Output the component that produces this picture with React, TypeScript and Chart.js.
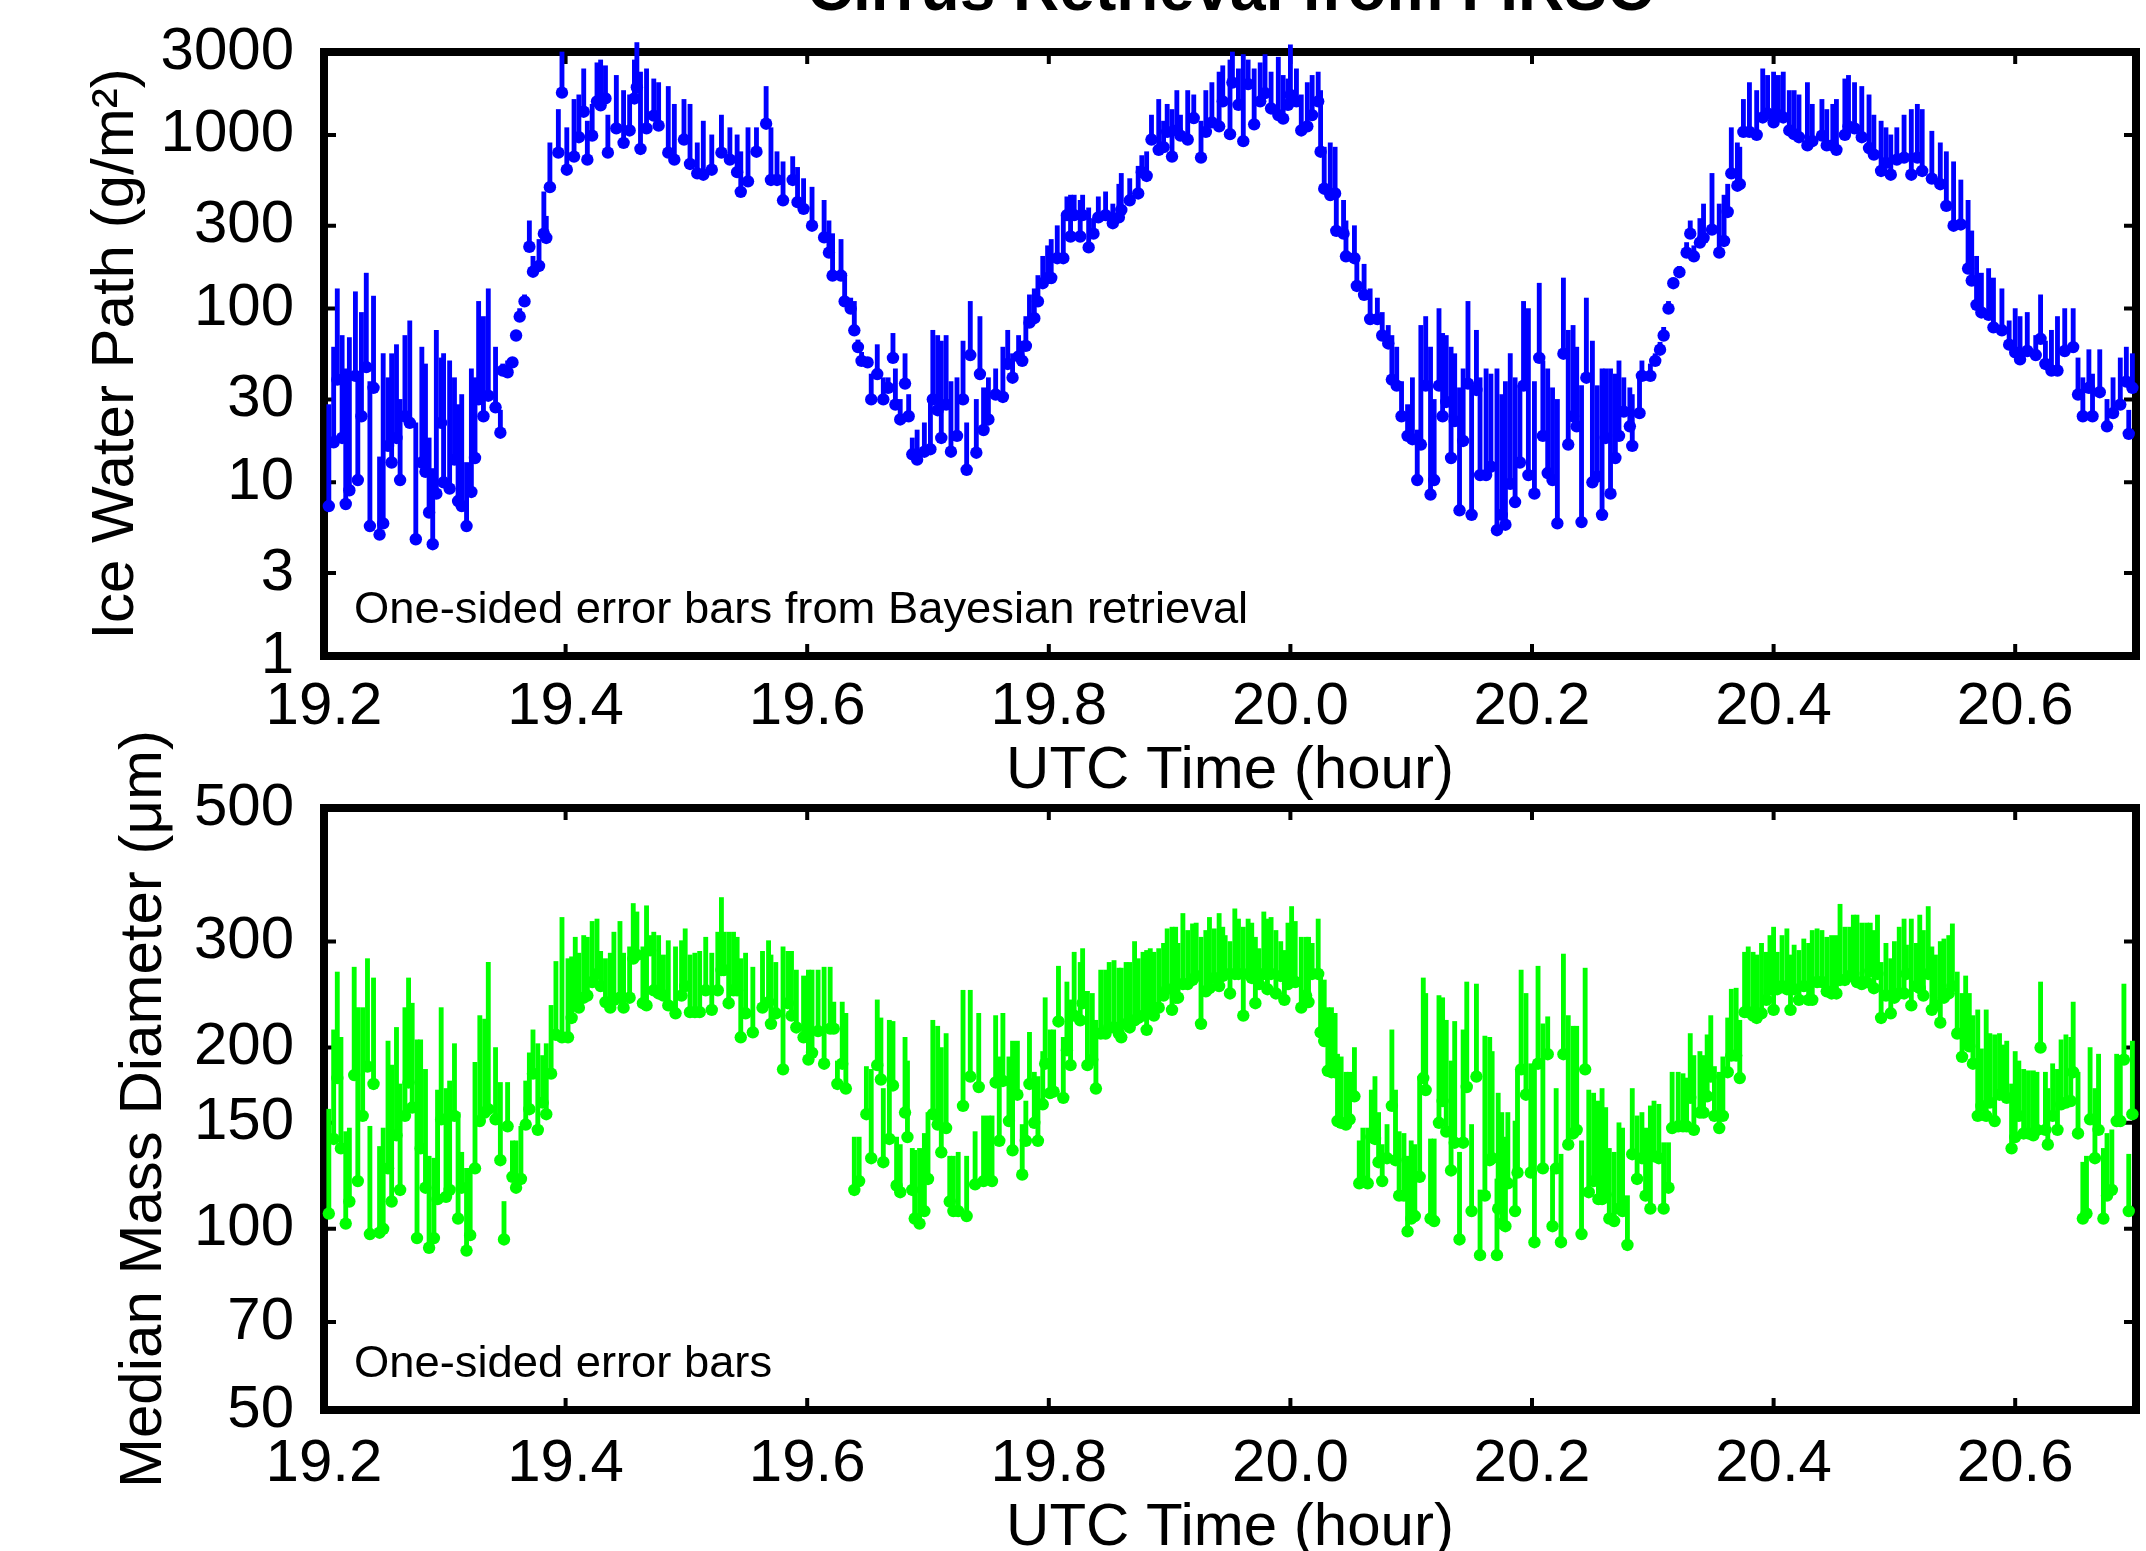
import { useEffect, useRef } from "react";
import { Chart, registerables } from "chart.js";

Chart.register(...registerables);

const FONT_FAMILY = '"Liberation Sans", Arial, Helvetica, sans-serif';

const TITLE = "Cirrus Retrieval from FIRSC";
const X_LABEL = "UTC Time (hour)";
const X_MIN = 19.2;
const X_MAX = 20.7;
const X_TICKS = [19.2, 19.4, 19.6, 19.8, 20.0, 20.2, 20.4, 20.6];

// ---- Ice water path (g/m^2): retrieved value and upper end of its one-sided error bar ----
const IWP_TICKS = [1, 3, 10, 30, 100, 300, 1000, 3000];

const IWP_TIME = [
  19.204, 19.208, 19.211, 19.215, 19.218, 19.221, 19.226, 19.228, 19.231, 19.235,
  19.238, 19.241, 19.246, 19.249, 19.253, 19.256, 19.260, 19.263, 19.267, 19.271,
  19.276, 19.281, 19.284, 19.287, 19.290, 19.293, 19.297, 19.299, 19.304, 19.308,
  19.311, 19.314, 19.318, 19.322, 19.325, 19.328, 19.332, 19.336, 19.342, 19.346,
  19.348, 19.352, 19.356, 19.359, 19.362, 19.366, 19.370, 19.373, 19.378, 19.382,
  19.384, 19.387, 19.394, 19.397, 19.401, 19.407, 19.411, 19.415, 19.418, 19.422,
  19.426, 19.429, 19.433, 19.435, 19.442, 19.448, 19.453, 19.457, 19.459, 19.462,
  19.467, 19.473, 19.477, 19.485, 19.490, 19.498, 19.503, 19.509, 19.514, 19.521,
  19.529, 19.536, 19.542, 19.545, 19.551, 19.558, 19.566, 19.570, 19.575, 19.580,
  19.588, 19.592, 19.597, 19.604, 19.614, 19.618, 19.621, 19.628, 19.631, 19.636,
  19.639, 19.642, 19.645, 19.650, 19.653, 19.658, 19.663, 19.667, 19.671, 19.673,
  19.677, 19.681, 19.684, 19.687, 19.691, 19.697, 19.702, 19.704, 19.708, 19.711,
  19.715, 19.719, 19.724, 19.729, 19.732, 19.735, 19.740, 19.743, 19.746, 19.750,
  19.756, 19.762, 19.766, 19.770, 19.775, 19.778, 19.781, 19.784, 19.788, 19.791,
  19.795, 19.799, 19.802, 19.807, 19.812, 19.815, 19.818, 19.821, 19.826, 19.828,
  19.833, 19.837, 19.841, 19.847, 19.853, 19.858, 19.860, 19.867, 19.874, 19.877,
  19.881, 19.885, 19.891, 19.895, 19.898, 19.902, 19.906, 19.909, 19.915, 19.920,
  19.926, 19.930, 19.935, 19.941, 19.944, 19.950, 19.952, 19.957, 19.961, 19.965,
  19.970, 19.975, 19.979, 19.984, 19.990, 19.994, 19.998, 20.000, 20.005, 20.009,
  20.014, 20.018, 20.023, 20.025, 20.028, 20.033, 20.037, 20.038, 20.044, 20.046,
  20.053, 20.055, 20.061, 20.066, 20.072, 20.076, 20.081, 20.084, 20.088, 20.092,
  20.097, 20.101, 20.105, 20.108, 20.112, 20.116, 20.119, 20.123, 20.126, 20.129,
  20.133, 20.136, 20.140, 20.143, 20.147, 20.150, 20.154, 20.157, 20.162, 20.166,
  20.171, 20.175, 20.178, 20.182, 20.186, 20.190, 20.193, 20.197, 20.202, 20.206,
  20.209, 20.213, 20.217, 20.221, 20.226, 20.230, 20.234, 20.237, 20.241, 20.245,
  20.250, 20.254, 20.258, 20.261, 20.265, 20.269, 20.272, 20.276, 20.281, 20.283,
  20.289, 20.291, 20.298, 20.302, 20.306, 20.309, 20.313, 20.317, 20.322, 20.328,
  20.331, 20.334, 20.339, 20.342, 20.349, 20.355, 20.359, 20.362, 20.365, 20.370,
  20.372, 20.375, 20.380, 20.386, 20.391, 20.395, 20.400, 20.404, 20.408, 20.413,
  20.417, 20.421, 20.428, 20.432, 20.440, 20.444, 20.449, 20.452, 20.459, 20.462,
  20.467, 20.473, 20.479, 20.483, 20.489, 20.493, 20.497, 20.502, 20.508, 20.514,
  20.519, 20.523, 20.531, 20.538, 20.543, 20.549, 20.555, 20.561, 20.564, 20.568,
  20.572, 20.578, 20.582, 20.589, 20.595, 20.600, 20.604, 20.610, 20.617, 20.621,
  20.625, 20.630, 20.635, 20.641, 20.648, 20.652, 20.656, 20.661, 20.664, 20.670,
  20.676, 20.681, 20.687, 20.692, 20.694, 20.697,
];

const IWP = [
  7.3, 17, 39, 18, 7.5, 9, 41, 10.3, 24, 46,
  5.6, 35, 5.0, 5.8, 16.2, 13, 18, 10.3, 24, 22,
  4.7, 13, 11.5, 6.7, 4.4, 8.6, 22, 10, 9.2, 13.5,
  7.8, 7.3, 5.6, 8.8, 13.8, 30, 24, 31.5, 27, 19.3,
  44, 43, 49, 70, 90, 110, 227, 163, 176, 270,
  255, 500, 790, 1750, 630, 750, 970, 1360, 720, 990,
  1560, 1480, 1620, 790, 1090, 900, 1060, 1620, 1880, 830,
  1090, 1290, 1130, 790, 720, 940, 680, 600, 590, 630,
  790, 720, 610, 470, 540, 800, 1160, 550, 550, 420,
  550, 410, 375, 300, 257, 210, 155, 155, 110, 100,
  75, 60, 50, 49, 30, 42, 30, 35, 52, 28,
  23, 37, 24, 14.5, 13.5, 15, 15.5, 30, 26, 18,
  28, 15, 18.5, 30, 11.8, 54, 14.8, 42, 20, 23,
  32, 31, 48, 40, 53, 50, 61, 83, 88, 110,
  140, 150, 150, 195, 195, 345, 260, 345, 260, 345,
  225, 270, 335, 345, 310, 335, 370, 420, 460, 610,
  580, 940, 820, 850, 1040, 750, 1060, 990, 940, 1250,
  740, 1040, 1180, 1120, 1560, 1010, 2000, 1490, 920, 1960,
  1150, 1560, 1740, 1420, 1300, 1240, 1490, 1700, 1560, 1060,
  1120, 1300, 1560, 800, 490, 450, 460, 280, 270, 200,
  195, 135, 120, 87, 87, 70, 63, 39, 36, 24,
  18.5, 17.7, 10.3, 16.5, 36, 8.5, 10.3, 36, 24, 29,
  13.8, 22.5, 6.9, 17.3, 37, 6.5, 34, 11, 11, 12.3,
  5.3, 6.5, 5.7, 9.8, 7.7, 13, 36, 11, 8.6, 52,
  18.5, 11.3, 10.3, 5.8, 55, 16.5, 24, 21, 5.9, 40,
  10, 10.8, 6.5, 18, 8.6, 13.8, 18.5, 25.5, 21, 16.2,
  25, 41, 41, 50, 58, 70, 100, 140, 162, 210,
  270, 200, 240, 255, 285, 210, 245, 360, 600, 510,
  520, 1040, 1040, 1000, 1260, 1330, 1180, 1300, 1260, 1060,
  1010, 970, 870, 920, 990, 870, 870, 820, 1000, 1120,
  1090, 970, 840, 770, 620, 690, 590, 720, 740, 590,
  740, 620, 560, 520, 390, 300, 305, 170, 145, 105,
  95, 92, 78, 75, 62, 56, 51, 57, 54, 67,
  48, 44, 44, 57, 60, 32, 24, 35, 24, 33,
  21, 25, 28, 38, 19, 35,
];

const IWP_UPPER = [
  28, 60, 130, 70, 45, 68, 125, 40, 95, 160,
  38, 118, 14, 55, 40, 55, 62, 30, 70, 85,
  22, 60, 48, 18, 12, 75, 52, 55, 50, 40,
  28, 32, 13, 45, 40, 110, 90, 130, 60, 26,
  48, 50, 52, 75, 100, 120, 320, 200, 250, 470,
  340, 900, 1400, 3000, 1100, 1600, 1700, 2400, 1200, 1500,
  2600, 2700, 2500, 1300, 2200, 1800, 1700, 2700, 3400, 2300,
  2400, 2100, 2000, 1900, 1500, 1600, 1500, 900, 1200, 1000,
  1300, 1100, 1000, 800, 1100, 1100, 1900, 1100, 800, 700,
  750, 650, 560, 500, 420, 320, 270, 250, 160, 115,
  110, 66, 56, 52, 42, 62, 40, 40, 72, 45,
  30, 55, 32, 18, 20, 22, 30, 75, 70, 65,
  70, 38, 40, 65, 22, 110, 30, 90, 35, 40,
  45, 60, 75, 55, 70, 65, 90, 120, 130, 155,
  200, 230, 250, 300, 340, 440, 450, 450, 420, 450,
  380, 330, 440, 470, 400, 520, 600, 560, 660, 760,
  800, 1300, 1600, 1200, 1500, 1400, 1800, 1300, 1800, 1700,
  1200, 1800, 2000, 2300, 2500, 2700, 3000, 2400, 2900, 2700,
  2400, 2600, 2900, 2300, 2800, 2200, 2100, 3300, 2400, 1700,
  2000, 2200, 2300, 1800, 850, 900, 850, 450, 420, 320,
  300, 200, 180, 130, 115, 95, 80, 70, 60, 38,
  28, 40, 20, 80, 90, 60, 30, 100, 72, 70,
  60, 55, 35, 45, 110, 35, 75, 40, 45, 42,
  45, 32, 38, 55, 40, 36, 110, 100, 38, 140,
  50, 45, 35, 30, 150, 75, 80, 60, 36, 115,
  65, 36, 45, 45, 45, 42, 50, 40, 35, 32,
  42, 50, 48, 55, 64, 78, 110, 150, 175, 240,
  320, 230, 330, 400, 600, 400, 450, 520, 1100, 900,
  850, 1600, 2000, 1800, 2400, 2200, 2300, 2200, 2300, 1800,
  1800, 1700, 2000, 1500, 1600, 1400, 1500, 1600, 2100, 2200,
  2000, 1900, 1700, 1300, 1200, 1100, 1000, 1100, 1300, 1400,
  1500, 1400, 1050, 900, 800, 700, 550, 420, 280, 200,
  160, 170, 150, 130, 85, 100, 90, 95, 70, 120,
  65, 75, 90, 100, 100, 52, 40, 58, 42, 58,
  30, 40, 52, 60, 26, 55,
];

// ---- Median mass diameter (um): retrieved value and upper end of its one-sided error bar ----
const DM_TICKS = [50, 70, 100, 150, 200, 300, 500];

const DM_TIME = [
  19.204, 19.208, 19.211, 19.214, 19.218, 19.221, 19.225, 19.228, 19.232, 19.236,
  19.238, 19.241, 19.246, 19.249, 19.253, 19.256, 19.260, 19.263, 19.267, 19.270,
  19.273, 19.277, 19.280, 19.284, 19.287, 19.291, 19.294, 19.297, 19.301, 19.304,
  19.308, 19.311, 19.314, 19.318, 19.321, 19.325, 19.329, 19.333, 19.336, 19.342,
  19.346, 19.349, 19.352, 19.356, 19.359, 19.363, 19.367, 19.370, 19.373, 19.377,
  19.381, 19.384, 19.388, 19.392, 19.397, 19.402, 19.405, 19.408, 19.411, 19.415,
  19.418, 19.422, 19.426, 19.429, 19.433, 19.437, 19.440, 19.445, 19.448, 19.453,
  19.456, 19.459, 19.464, 19.467, 19.470, 19.473, 19.477, 19.481, 19.485, 19.491,
  19.496, 19.499, 19.503, 19.507, 19.511, 19.516, 19.521, 19.526, 19.529, 19.531,
  19.535, 19.539, 19.542, 19.545, 19.549, 19.555, 19.563, 19.568, 19.570, 19.574,
  19.580, 19.584, 19.587, 19.591, 19.597, 19.601, 19.604, 19.609, 19.614, 19.619,
  19.622, 19.625, 19.629, 19.632, 19.639, 19.643, 19.649, 19.653, 19.658, 19.661,
  19.663, 19.668, 19.671, 19.674, 19.677, 19.681, 19.683, 19.687, 19.689, 19.693,
  19.697, 19.700, 19.704, 19.708, 19.711, 19.715, 19.718, 19.721, 19.725, 19.729,
  19.732, 19.735, 19.739, 19.742, 19.746, 19.750, 19.753, 19.756, 19.759, 19.762,
  19.767, 19.770, 19.774, 19.778, 19.781, 19.784, 19.788, 19.791, 19.795, 19.797,
  19.801, 19.804, 19.808, 19.812, 19.815, 19.818, 19.821, 19.826, 19.828, 19.832,
  19.836, 19.839, 19.843, 19.847, 19.850, 19.854, 19.858, 19.860, 19.864, 19.867,
  19.871, 19.874, 19.878, 19.881, 19.884, 19.887, 19.891, 19.895, 19.898, 19.902,
  19.905, 19.907, 19.911, 19.915, 19.919, 19.922, 19.926, 19.930, 19.933, 19.937,
  19.941, 19.944, 19.946, 19.950, 19.954, 19.957, 19.961, 19.965, 19.968, 19.971,
  19.974, 19.978, 19.981, 19.984, 19.988, 19.992, 19.995, 19.998, 20.001, 20.004,
  20.009, 20.013, 20.015, 20.018, 20.023, 20.025, 20.028, 20.031, 20.034, 20.037,
  20.039, 20.042, 20.046, 20.049, 20.053, 20.057, 20.060, 20.064, 20.067, 20.070,
  20.073, 20.076, 20.080, 20.084, 20.087, 20.090, 20.094, 20.097, 20.100, 20.103,
  20.107, 20.110, 20.112, 20.116, 20.119, 20.123, 20.126, 20.129, 20.133, 20.136,
  20.140, 20.143, 20.146, 20.150, 20.154, 20.157, 20.161, 20.165, 20.167, 20.171,
  20.172, 20.175, 20.178, 20.180, 20.186, 20.188, 20.191, 20.195, 20.199, 20.202,
  20.205, 20.209, 20.213, 20.217, 20.220, 20.224, 20.226, 20.230, 20.234, 20.237,
  20.241, 20.244, 20.247, 20.251, 20.255, 20.258, 20.261, 20.264, 20.268, 20.272,
  20.275, 20.279, 20.283, 20.287, 20.291, 20.294, 20.298, 20.301, 20.305, 20.309,
  20.313, 20.316, 20.321, 20.325, 20.328, 20.331, 20.334, 20.339, 20.342, 20.345,
  20.348, 20.351, 20.355, 20.358, 20.362, 20.365, 20.369, 20.372, 20.376, 20.379,
  20.383, 20.386, 20.390, 20.394, 20.397, 20.400, 20.403, 20.407, 20.411, 20.414,
  20.417, 20.421, 20.425, 20.429, 20.432, 20.436, 20.440, 20.444, 20.448, 20.452,
  20.455, 20.459, 20.463, 20.466, 20.469, 20.473, 20.477, 20.480, 20.483, 20.486,
  20.489, 20.493, 20.497, 20.500, 20.504, 20.508, 20.510, 20.514, 20.518, 20.521,
  20.524, 20.528, 20.531, 20.534, 20.538, 20.541, 20.545, 20.548, 20.552, 20.556,
  20.559, 20.562, 20.565, 20.569, 20.572, 20.576, 20.579, 20.583, 20.587, 20.590,
  20.593, 20.597, 20.600, 20.603, 20.607, 20.611, 20.615, 20.618, 20.621, 20.625,
  20.627, 20.631, 20.635, 20.638, 20.642, 20.646, 20.648, 20.652, 20.656, 20.659,
  20.662, 20.666, 20.669, 20.673, 20.676, 20.680, 20.684, 20.687, 20.690, 20.694,
  20.697,
];

const DM = [
  106, 141, 178, 136, 102, 111, 180, 120, 154, 186,
  98, 174, 98.5, 100, 126, 111, 143, 116, 154, 175,
  159, 96.5, 136, 117, 93, 96.5, 112, 152, 113, 116,
  154, 104, 117, 92, 97.6, 126, 151, 156, 158, 152,
  130, 96, 148, 122, 117, 121, 149, 158, 181, 146,
  162, 155, 181, 210, 208, 208, 224, 235, 233, 242,
  244, 257, 265, 253, 238, 233, 240, 242, 233, 242,
  281, 285, 237, 235, 290, 249, 246, 244, 235, 228,
  244, 253, 229, 229, 229, 249, 231, 249, 269, 269,
  237, 249, 249, 208, 228, 212, 233, 238, 219, 228,
  184, 237, 226, 216, 208, 191, 196, 213, 188, 215,
  215, 174, 188, 171, 116, 120, 155, 131, 187, 177,
  129, 141, 173, 118, 115, 156, 142, 116, 104, 102,
  107, 121, 155, 149, 134, 147, 111, 107, 107, 160,
  105, 179, 118.5, 172, 120, 121, 120, 175, 140, 176,
  151, 135, 167, 123, 140, 174, 150, 140, 161, 188,
  168, 169, 221, 165, 198, 187, 226, 222, 237, 187,
  191, 171, 211, 211, 216, 216, 211, 208, 219, 216,
  222, 224, 226, 214, 231, 226, 233, 244, 250, 231,
  242, 242, 255, 255, 259, 263, 219, 248, 251, 261,
  253, 263, 265, 246, 265, 265, 226, 265, 261, 237,
  255, 265, 250, 265, 246, 263, 240, 255, 259, 257,
  233, 244, 238, 265, 265, 212, 205, 183, 182, 182,
  151, 150, 149, 152, 166, 119, 120, 119, 142, 141,
  129, 120, 131, 160, 130, 113.5, 113.5, 99, 104, 105,
  122, 178, 170, 104, 103, 150, 163, 145, 125, 139,
  96, 139, 172, 107, 179, 90.4, 113.5, 130, 131, 90.4,
  108, 102, 101, 119, 107, 124, 184, 167, 124, 95,
  188, 126, 195, 101, 126, 95, 195, 138, 144, 146,
  98, 184, 115, 120, 112, 112, 114, 104, 103, 108,
  107, 94, 133, 121, 131, 113.5, 108, 132, 131, 108,
  117, 147, 148, 148, 148, 165, 146, 156, 156, 166,
  179, 154, 147, 154, 182, 194, 194, 178, 229, 229,
  226, 224, 228, 240, 250, 231, 250, 253, 250, 231,
  250, 240, 253, 240, 240, 257, 257, 248, 246, 246,
  259, 259, 263, 265, 257, 255, 257, 268, 251, 265,
  224, 244, 228, 242, 246, 246, 265, 235, 253, 251,
  244, 265, 231, 235, 220, 242, 246, 253, 211, 193,
  208, 201, 188, 154, 160, 154, 162, 151, 167, 168,
  165, 136, 142, 154, 144, 144, 143, 146, 200, 146,
  138, 154, 146, 161, 162, 163, 182, 144, 104, 106,
  152, 131, 146, 104, 113.5, 116, 151, 151, 191, 107,
  155,
];

const DM_UPPER = [
  158, 214, 267, 208, 145, 147, 272, 233, 233, 281,
  148, 261, 137, 147, 205, 187, 216, 174, 233, 261,
  237, 206, 206, 184, 132, 131, 170, 233, 171, 176,
  203, 156, 134, 126, 126, 189, 226, 223, 277, 200,
  175, 111, 175, 140, 140, 148, 176, 196, 214, 203,
  194, 203, 235, 278, 329, 281, 283, 305, 287, 307,
  305, 324, 327, 289, 281, 287, 311, 324, 287, 294,
  347, 336, 294, 344, 307, 311, 307, 285, 301, 294,
  301, 315, 285, 287, 289, 305, 287, 311, 355, 311,
  311, 311, 305, 281, 287, 272, 289, 301, 285, 277,
  294, 289, 289, 269, 263, 269, 269, 269, 272, 272,
  238, 190, 238, 228, 142, 142, 186, 184, 240, 224,
  171, 222, 221, 142, 138, 208, 190, 136, 135, 136,
  144, 156, 222, 217, 200, 211, 132, 132, 134, 249,
  132, 249, 145, 228, 154, 154, 154, 226, 193, 228,
  193, 205, 205, 149, 163, 212, 182, 179, 197, 242,
  214, 214, 273, 208, 257, 240, 288, 277, 292, 248,
  246, 222, 269, 269, 277, 279, 271, 271, 277, 277,
  300, 281, 288, 290, 292, 288, 292, 298, 315, 317,
  317, 298, 334, 313, 321, 322, 305, 313, 329, 315,
  334, 317, 307, 300, 340, 327, 317, 327, 322, 305,
  292, 336, 327, 329, 313, 300, 290, 322, 343, 324,
  305, 305, 305, 298, 327, 269, 259, 233, 233, 228,
  195, 193, 182, 182, 200, 140, 147, 147, 170, 179,
  156, 138, 149, 214, 170, 145, 144, 132, 140, 138,
  179, 261, 246, 141, 141, 244, 242, 222, 190, 221,
  134, 214, 257, 149, 255, 116, 209, 208, 197, 121,
  168, 156, 142, 156, 151, 184, 269, 246, 188, 187,
  273, 219, 225, 127, 171, 133, 286, 226, 217, 217,
  140, 271, 170, 168, 163, 171, 159, 136, 134, 150,
  147, 113.5, 171, 154, 156, 147, 160, 163, 161, 139,
  139, 182, 182, 181, 178, 211, 194, 197, 194, 210,
  226, 186, 182, 193, 224, 250, 251, 222, 288, 294,
  288, 285, 298, 288, 307, 317, 288, 307, 315, 285,
  296, 290, 303, 298, 313, 315, 313, 305, 307, 307,
  346, 317, 317, 332, 332, 322, 322, 322, 313, 332,
  277, 298, 281, 300, 317, 327, 296, 327, 298, 332,
  313, 343, 294, 285, 300, 303, 307, 321, 267, 246,
  263, 246, 226, 231, 199, 231, 211, 210, 211, 202,
  205, 174, 197, 190, 184, 183, 183, 182, 257, 182,
  171, 188, 184, 206, 210, 208, 238, 182, 129, 132,
  200, 171, 195, 136, 144, 146, 195, 194, 255, 133,
  205,
];

type PanelSpec = {
  times: number[];
  values: number[];
  uppers: number[];
  color: string;
  yMin: number;
  yMax: number;
  yTicks: number[];
  yTitle: string;
  yTitlePad: number;
  note: string;
  padTop: number;
  xAxisHeight: number;
  xTickPad: number;
  xTitleLineHeight: number;
  xTitlePad: number;
  withTitle: boolean;
};

const IWP_PANEL: PanelSpec = {
  times: IWP_TIME,
  values: IWP,
  uppers: IWP_UPPER,
  color: "#0000ff",
  yMin: 1,
  yMax: 3000,
  yTicks: IWP_TICKS,
  yTitle: "Ice Water Path (g/m\u00b2)",
  yTitlePad: 80,
  note: "One-sided error bars from Bayesian retrieval",
  padTop: 52,
  xAxisHeight: 154,
  xTickPad: 15,
  xTitleLineHeight: 1.2,
  xTitlePad: 3,
  withTitle: true,
};

const DM_PANEL: PanelSpec = {
  times: DM_TIME,
  values: DM,
  uppers: DM_UPPER,
  color: "#00ff00",
  yMin: 50,
  yMax: 500,
  yTicks: DM_TICKS,
  yTitle: "Median Mass Diameter (\u03bcm)",
  yTitlePad: 108,
  note: "One-sided error bars",
  padTop: 78,
  xAxisHeight: 150,
  xTickPad: 18,
  xTitleLineHeight: 1.0,
  xTitlePad: 2,
  withTitle: false,
};

const Y_AXIS_WIDTH = 324;
const RIGHT_PAD = 10;

function framePlugin(spec: PanelSpec) {
  return {
    id: "panelFrame",
    beforeDatasetsDraw(chart: any) {
      const { ctx, chartArea, scales } = chart;
      const { left, right, top, bottom } = chartArea;
      ctx.save();
      ctx.strokeStyle = "#000";
      // inward tick marks on all four sides
      ctx.lineWidth = 4;
      ctx.beginPath();
      for (const v of X_TICKS) {
        const px = scales.x.getPixelForValue(v);
        ctx.moveTo(px, bottom);
        ctx.lineTo(px, bottom - 12);
        ctx.moveTo(px, top);
        ctx.lineTo(px, top + 12);
      }
      for (const v of spec.yTicks) {
        const py = scales.y.getPixelForValue(v);
        ctx.moveTo(left, py);
        ctx.lineTo(left + 12, py);
        ctx.moveTo(right, py);
        ctx.lineTo(right - 12, py);
      }
      ctx.stroke();
      // heavy box around the plotting area
      ctx.lineWidth = 8;
      ctx.lineJoin = "miter";
      ctx.strokeRect(left, top, right - left, bottom - top);
      // in-panel note
      ctx.fillStyle = "#000";
      ctx.font = `44px ${FONT_FAMILY}`;
      ctx.textAlign = "left";
      ctx.textBaseline = "alphabetic";
      ctx.translate(left + 30, bottom - 33);
      ctx.scale(1.03, 1);
      ctx.fillText(spec.note, 0, 0);
      ctx.restore();
    },
    afterDraw(chart: any) {
      if (!spec.withTitle) return;
      const { ctx, chartArea } = chart;
      ctx.save();
      ctx.fillStyle = "#000";
      ctx.font = `bold 64px ${FONT_FAMILY}`;
      ctx.textAlign = "center";
      ctx.textBaseline = "alphabetic";
      ctx.fillText(TITLE, (chartArea.left + chartArea.right) / 2, 10);
      ctx.restore();
    },
  };
}

function buildPanel(canvas: HTMLCanvasElement, spec: PanelSpec): Chart {
  const bars = spec.times.map((t, i) => ({ x: t, y: [spec.values[i], spec.uppers[i]] }));
  const dots = spec.times.map((t, i) => ({ x: t, y: spec.values[i] }));
  const font = { family: FONT_FAMILY, size: 60 };

  return new Chart(canvas, {
    type: "bar",
    data: {
      datasets: [
        {
          type: "scatter",
          data: dots,
          pointRadius: 6.2,
          pointHoverRadius: 6.2,
          pointBackgroundColor: spec.color,
          backgroundColor: spec.color,
          pointBorderWidth: 0,
          borderWidth: 0,
          showLine: false,
          clip: false,
        } as any,
        {
          type: "bar",
          data: bars as any,
          backgroundColor: spec.color,
          borderWidth: 0,
          barThickness: 4.2,
          grouped: false,
          clip: false,
        } as any,
      ],
    },
    options: {
      responsive: false,
      maintainAspectRatio: false,
      animation: false,
      devicePixelRatio: 1,
      events: [],
      layout: { padding: { top: spec.padTop, left: 0, right: RIGHT_PAD, bottom: 0 } },
      plugins: {
        legend: { display: false },
        tooltip: { enabled: false },
        title: { display: false },
      },
      scales: {
        x: {
          type: "linear",
          min: X_MIN,
          max: X_MAX,
          offset: false,
          grid: { display: false, drawTicks: false },
          border: { display: false },
          afterBuildTicks: (scale: any) => {
            scale.ticks = X_TICKS.map((value) => ({ value }));
          },
          afterFit: (scale: any) => {
            scale.height = spec.xAxisHeight;
            scale.paddingLeft = 0;
            scale.paddingRight = 0;
          },
          ticks: {
            autoSkip: false,
            maxRotation: 0,
            minRotation: 0,
            padding: spec.xTickPad,
            color: "#000",
            font,
            callback: (v: any) => Number(v).toFixed(1),
          },
          title: {
            display: true,
            text: X_LABEL,
            color: "#000",
            font: { family: FONT_FAMILY, size: 60, lineHeight: spec.xTitleLineHeight },
            padding: { top: 0, bottom: spec.xTitlePad },
          },
        },
        y: {
          type: "logarithmic",
          min: spec.yMin,
          max: spec.yMax,
          grid: { display: false, drawTicks: false },
          border: { display: false },
          afterBuildTicks: (scale: any) => {
            scale.ticks = spec.yTicks.map((value) => ({ value }));
          },
          afterFit: (scale: any) => {
            scale.width = Y_AXIS_WIDTH;
            scale.paddingTop = 0;
            scale.paddingBottom = 0;
          },
          ticks: {
            autoSkip: false,
            padding: 30,
            color: "#000",
            font,
            callback: (v: any) => String(v),
          },
          title: {
            display: true,
            text: spec.yTitle,
            color: "#000",
            font: { family: FONT_FAMILY, size: 60, lineHeight: 1.2 },
            padding: { top: spec.yTitlePad, bottom: 0 },
          },
        },
      },
    } as any,
    plugins: [framePlugin(spec)],
  });
}

export default function App() {
  const topRef = useRef<HTMLCanvasElement>(null);
  const bottomRef = useRef<HTMLCanvasElement>(null);

  useEffect(() => {
    const charts: Chart[] = [];
    if (topRef.current) charts.push(buildPanel(topRef.current, IWP_PANEL));
    if (bottomRef.current) charts.push(buildPanel(bottomRef.current, DM_PANEL));
    return () => charts.forEach((c) => c.destroy());
  }, []);

  return (
    <div
      style={{
        position: "fixed",
        left: 0,
        top: 0,
        width: 2146,
        height: 1551,
        overflow: "hidden",
        background: "#fff",
      }}
    >
      <canvas
        ref={topRef}
        width={2146}
        height={810}
        style={{ position: "absolute", left: 0, top: 0, width: 2146, height: 810 }}
      />
      <canvas
        ref={bottomRef}
        width={2146}
        height={830}
        style={{ position: "absolute", left: 0, top: 730, width: 2146, height: 830 }}
      />
    </div>
  );
}
